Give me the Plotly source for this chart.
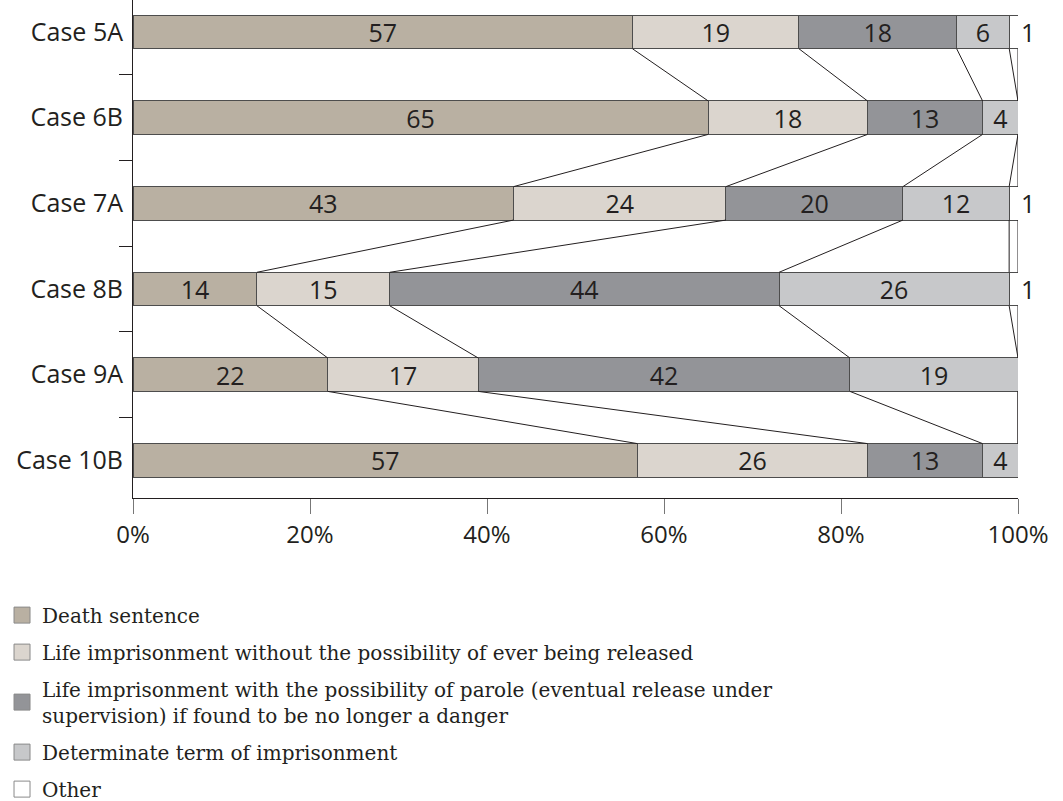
import plotly.graph_objects as go

cases = ["Case 5A", "Case 6B", "Case 7A", "Case 8B", "Case 9A", "Case 10B"]
death = [57, 65, 43, 14, 22, 57]
life_no_release = [19, 18, 24, 15, 17, 26]
life_parole = [18, 13, 20, 44, 42, 13]
determinate = [6, 4, 12, 26, 19, 4]
other = [1, None, 1, 1, None, None]

series = [
    ("Death sentence", death, "#b9b0a2"),
    ("Life imprisonment without the possibility of ever being released", life_no_release, "#dbd5ce"),
    ("Life imprisonment with the possibility of parole (eventual release under<br>supervision) if found to be no longer a danger",
     life_parole, "#939498"),
    ("Determinate term of imprisonment", determinate, "#c7c8ca"),
    ("Other", other, "#ffffff"),
]

_SANS = "Open Sans, sans-serif"
_SERIF = "DejaVu Serif, serif"
_TEXT = "#231f20"
_EDGE = "#4d4d4d"
BAR_W = 0.39

ypos = list(range(len(cases)))

fig = go.Figure()

# stacked bars, normalised to 100 %
for i, (name, vals, colour) in enumerate(series):
    last = i == len(series) - 1
    fig.add_trace(go.Bar(
        y=ypos, x=vals, orientation="h", width=BAR_W,
        marker=dict(color=colour, line=dict(color=_EDGE, width=1)),
        text=["" if v is None else str(v) for v in vals],
        textposition="outside" if last else "inside",
        insidetextanchor="middle",
        textangle=0,
        constraintext="none",
        cliponaxis=False,
        textfont=dict(family=_SANS, size=25, color=_TEXT),
        showlegend=False,
        hoverinfo="skip",
    ))

# connector ("series") lines between neighbouring bars
totals = [sum(vals[j] or 0 for _, vals, _ in series) for j in range(len(cases))]
cum = []
for j in range(len(cases)):
    run, row = 0, []
    for _, vals, _ in series:
        run += vals[j] or 0
        row.append(100.0 * run / totals[j])
    cum.append(row)

lx, ly = [], []
for k in range(len(series)):
    for j in range(len(cases) - 1):
        lx += [cum[j][k], cum[j + 1][k], None]
        ly += [j + BAR_W / 2, j + 1 - BAR_W / 2, None]
fig.add_trace(go.Scatter(
    x=lx, y=ly, mode="lines",
    line=dict(color="#231f20", width=1),
    cliponaxis=False,
    showlegend=False, hoverinfo="skip",
))

# legend entries (square swatches)
for i, (name, vals, colour) in enumerate(series):
    fig.add_trace(go.Scatter(
        x=[None], y=[None], mode="markers", name=name,
        legendgroup=f"g{i}",
        marker=dict(symbol="square", size=17, color=colour,
                    line=dict(color="#8a8a8a", width=1)),
    ))

fig.update_layout(
    width=1063, height=801,
    paper_bgcolor="white", plot_bgcolor="white",
    margin=dict(l=133, r=45, t=0, b=303, autoexpand=False),
    barmode="stack", barnorm="percent",
    font=dict(family=_SANS, color=_TEXT, size=25),
    showlegend=True,
    legend=dict(
        x=-0.148, xanchor="left", y=-0.196, yanchor="top",
        orientation="v", font=dict(family=_SERIF, size=20, color=_TEXT),
        tracegroupgap=8, bgcolor="rgba(0,0,0,0)",
        itemsizing="trace",
    ),
    xaxis=dict(
        range=[0, 100], tickvals=[0, 20, 40, 60, 80, 100],
        ticktext=["0%", "20%", "40%", "60%", "80%", "100%"],
        showgrid=False, zeroline=False, automargin=False,
        showline=True, linecolor="#231f20", linewidth=1.2,
        ticks="outside", ticklen=15, tickcolor="#777777",
        tickfont=dict(family=_SANS, size=24, color=_TEXT),
    ),
    yaxis=dict(
        range=[5.44, -0.374],
        tickvals=ypos, ticktext=cases, ticks="",
        minor=dict(tickvals=[0.5, 1.5, 2.5, 3.5, 4.5, 5.5], ticks="outside",
                   ticklen=13, tickcolor="#231f20", showgrid=False),
        showgrid=False, zeroline=False, automargin=False,
        showline=True, linecolor="#231f20", linewidth=1,
        ticklabelstandoff=4,
        tickfont=dict(family=_SANS, size=25, color=_TEXT),
    ),
)

# the page's default body margin would push the figure 8px right and down
fig.write_html("out.html", config={"displayModeBar": False},
               post_script="document.body.style.margin='0';")
